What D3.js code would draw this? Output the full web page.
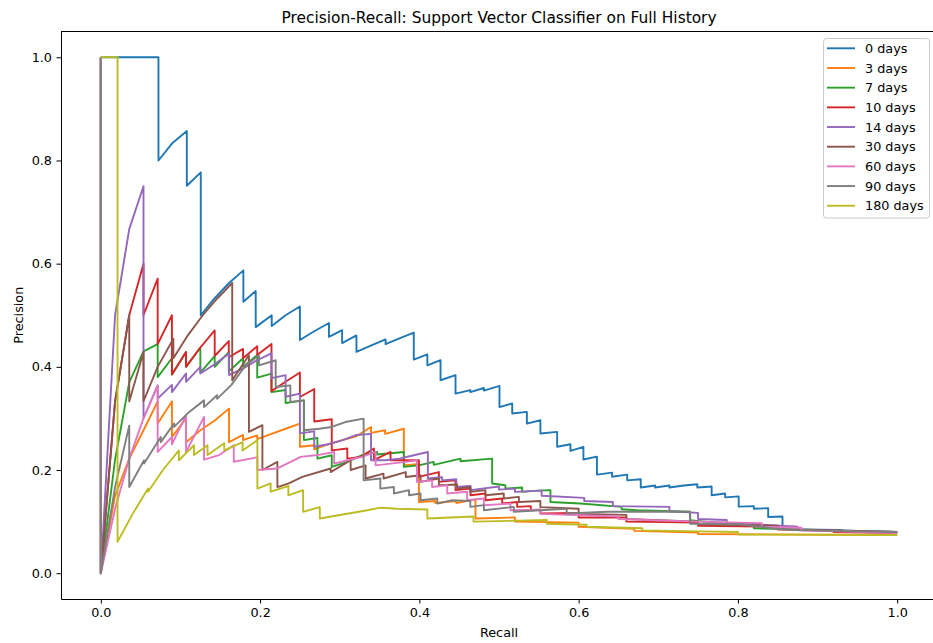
<!DOCTYPE html>
<html><head><meta charset="utf-8">
<script src="https://cdn.jsdelivr.net/npm/d3@7"></script>
<style>
body{margin:0;background:#fff}
svg{display:block}
text{font-family:"DejaVu Sans",sans-serif;fill:#000}
</style>
</head><body>
<svg id="c" width="933" height="643"></svg>
<script>
const titleText = "Precision-Recall: Support Vector Classifier on Full History";
const xLabel = "Recall";
const yLabel = "Precision";
const seriesLabels = ["0 days","3 days","7 days","10 days","14 days","30 days","60 days","90 days","180 days"];
const colors = ["#1f77b4","#ff7f0e","#2ca02c","#d62728","#9467bd","#8c564b","#e377c2","#7f7f7f","#bcbd22"];
const xTicks = [0.0,0.2,0.4,0.6,0.8,1.0];
const yTicks = [0.0,0.2,0.4,0.6,0.8,1.0];

// [recall, precision] pairs
const days0 = [[0,1],[0.0724,1],[0.0724,0.8],[0.090,0.834],[0.108,0.857],[0.108,0.751],[0.1255,0.777],[0.1255,0.5],[0.143,0.533],[0.161,0.5625],[0.179,0.587],[0.179,0.526],[0.1945,0.547],[0.1945,0.477],[0.2146,0.5],[0.2146,0.479],[0.232,0.5],[0.250,0.517],[0.250,0.452],[0.268,0.469],[0.2865,0.485],[0.2865,0.458],[0.303,0.471],[0.303,0.446],[0.321,0.461],[0.321,0.429],[0.339,0.441],[0.3576,0.453],[0.3576,0.444],[0.375,0.455],[0.393,0.4665],[0.393,0.414],[0.41,0.424],[0.41,0.403],[0.4266,0.413],[0.4266,0.374],[0.4454,0.384],[0.4454,0.348],[0.464,0.355],[0.464,0.351],[0.481,0.359],[0.481,0.354],[0.5006,0.363],[0.5006,0.322],[0.5166,0.329],[0.5166,0.3095],[0.535,0.3127],[0.535,0.29],[0.552,0.2965],[0.552,0.2707],[0.573,0.274],[0.573,0.245],[0.5897,0.25],[0.5897,0.237],[0.606,0.245],[0.606,0.2203],[0.623,0.226],[0.623,0.191],[0.642,0.195],[0.642,0.187],[0.661,0.191],[0.661,0.18],[0.678,0.182],[0.678,0.166],[0.696,0.17],[0.696,0.166],[0.714,0.17],[0.714,0.166],[0.732,0.17],[0.749,0.1725],[0.749,0.166],[0.767,0.168],[0.767,0.151],[0.784,0.1545],[0.784,0.147],[0.801,0.149],[0.801,0.129],[0.82,0.13],[0.82,0.125],[0.838,0.126],[0.838,0.109],[0.856,0.11],[0.856,0.0897],[0.871,0.09],[0.871,0.085],[0.93,0.084],[0.93,0.081],[1.0,0.08]];
const days3 = [[0,1],[0,0],[0.0179,0.15],[0.0357,0.222],[0.0536,0.277],[0.0714,0.333],[0.0714,0.29],[0.0893,0.333],[0.0893,0.264],[0.107,0.3],[0.107,0.254],[0.125,0.277],[0.143,0.296],[0.161,0.319],[0.161,0.254],[0.1786,0.268],[0.1786,0.258],[0.1964,0.267],[0.1964,0.26],[0.2143,0.27],[0.232,0.28],[0.25,0.29],[0.25,0.245],[0.268,0.248],[0.268,0.24],[0.2857,0.25],[0.3036,0.258],[0.3214,0.266],[0.3393,0.2835],[0.3393,0.272],[0.357,0.277],[0.357,0.27],[0.3805,0.28],[0.3805,0.209],[0.3994,0.212],[0.3994,0.138],[0.42,0.14],[0.42,0.136],[0.4464,0.14],[0.4464,0.136],[0.4705,0.143],[0.4705,0.106],[0.52,0.108],[0.52,0.1],[0.6,0.098],[0.6,0.09],[0.67,0.086],[0.67,0.082],[0.75,0.079],[0.75,0.076],[1.0,0.074]];
const days7 = [[0,1],[0,0],[0.0179,0.22],[0.0357,0.37],[0.0536,0.43],[0.0714,0.444],[0.0714,0.38],[0.0893,0.4167],[0.0893,0.385],[0.107,0.4286],[0.107,0.4],[0.125,0.4375],[0.125,0.3889],[0.143,0.421],[0.143,0.4],[0.1607,0.4286],[0.1607,0.3913],[0.1786,0.4167],[0.1786,0.4],[0.1964,0.4231],[0.1964,0.379],[0.2143,0.387],[0.2143,0.364],[0.2143,0.351],[0.232,0.355],[0.232,0.33],[0.255,0.335],[0.255,0.258],[0.272,0.262],[0.272,0.222],[0.29,0.2287],[0.29,0.206],[0.3095,0.2157],[0.328,0.2287],[0.347,0.235],[0.347,0.23],[0.3805,0.235],[0.3805,0.206],[0.3994,0.209],[0.418,0.2157],[0.418,0.21],[0.4517,0.222],[0.4517,0.217],[0.4914,0.222],[0.4914,0.174],[0.508,0.1705],[0.508,0.164],[0.529,0.166],[0.529,0.1576],[0.548,0.16],[0.5646,0.161],[0.5646,0.138],[0.602,0.135],[0.654,0.1285],[0.654,0.124],[0.673,0.122],[0.74,0.119],[0.74,0.1027],[0.761,0.0995],[0.82,0.095],[0.82,0.087],[1.0,0.08]];
const days10 = [[0,1],[0,0],[0.0179,0.333],[0.0357,0.5],[0.0536,0.6],[0.0536,0.5],[0.0714,0.571],[0.0714,0.444],[0.0893,0.5],[0.0893,0.385],[0.107,0.4286],[0.107,0.4],[0.125,0.4375],[0.143,0.4706],[0.143,0.421],[0.1607,0.45],[0.1607,0.4186],[0.1786,0.4348],[0.1786,0.4167],[0.1964,0.44],[0.1964,0.4231],[0.2143,0.4444],[0.2143,0.3529],[0.232,0.371],[0.25,0.389],[0.25,0.3415],[0.268,0.357],[0.268,0.294],[0.29,0.2985],[0.29,0.238],[0.3095,0.2416],[0.3095,0.222],[0.3262,0.2254],[0.343,0.2416],[0.343,0.219],[0.3638,0.235],[0.3638,0.219],[0.3994,0.219],[0.3994,0.1866],[0.4245,0.196],[0.4245,0.177],[0.4454,0.18],[0.4454,0.161],[0.4642,0.164],[0.4642,0.151],[0.483,0.1545],[0.483,0.1415],[0.504,0.1447],[0.504,0.135],[0.5228,0.138],[0.5228,0.1285],[0.54,0.13],[0.54,0.122],[0.552,0.123],[0.552,0.116],[0.6,0.117],[0.6,0.108],[0.66,0.108],[0.66,0.1],[0.75,0.098],[0.75,0.092],[0.85,0.09],[0.85,0.085],[0.92,0.083],[0.92,0.08],[1.0,0.078]];
const days14 = [[0,1],[0,0],[0.0179,0.5],[0.0357,0.667],[0.0536,0.75],[0.0536,0.3],[0.0714,0.364],[0.0714,0.3385],[0.0893,0.365],[0.0893,0.351],[0.107,0.387],[0.107,0.371],[0.125,0.4],[0.125,0.387],[0.143,0.405],[0.161,0.426],[0.161,0.384],[0.1786,0.397],[0.1964,0.413],[0.2143,0.426],[0.2143,0.378],[0.232,0.384],[0.232,0.342],[0.25,0.348],[0.25,0.271],[0.268,0.275],[0.268,0.245],[0.2857,0.25],[0.3036,0.258],[0.3214,0.268],[0.3393,0.27],[0.3393,0.219],[0.357,0.219],[0.375,0.222],[0.393,0.2287],[0.4107,0.235],[0.4107,0.1835],[0.4286,0.186],[0.4286,0.18],[0.4464,0.182],[0.4464,0.167],[0.4643,0.169],[0.4643,0.161],[0.5,0.168],[0.5,0.162],[0.52,0.164],[0.52,0.1576],[0.5536,0.16],[0.5536,0.15],[0.607,0.146],[0.607,0.14],[0.643,0.138],[0.643,0.13],[0.714,0.1285],[0.714,0.12],[0.75,0.117],[0.75,0.105],[0.786,0.103],[0.786,0.098],[0.875,0.09],[0.875,0.085],[1.0,0.08]];
const days30 = [[0,1],[0,0],[0.0179,0.333],[0.0357,0.5],[0.0357,0.333],[0.0536,0.4286],[0.0536,0.3333],[0.0714,0.4],[0.0911,0.4545],[0.0911,0.4167],[0.1095,0.4615],[0.128,0.5],[0.1465,0.533],[0.165,0.5625],[0.165,0.374],[0.186,0.4225],[0.186,0.274],[0.2029,0.287],[0.2029,0.2],[0.2217,0.2157],[0.2217,0.167],[0.236,0.174],[0.253,0.1866],[0.2886,0.203],[0.2886,0.196],[0.3137,0.219],[0.3137,0.2],[0.3325,0.209],[0.3325,0.1835],[0.355,0.193],[0.355,0.1835],[0.383,0.196],[0.383,0.1866],[0.4015,0.19],[0.4015,0.177],[0.4245,0.1835],[0.4245,0.1705],[0.4475,0.172],[0.4475,0.164],[0.464,0.167],[0.464,0.1576],[0.483,0.161],[0.483,0.151],[0.506,0.1545],[0.506,0.1447],[0.525,0.148],[0.525,0.138],[0.552,0.14],[0.552,0.128],[0.6,0.125],[0.6,0.115],[0.66,0.113],[0.66,0.105],[0.75,0.1],[0.75,0.095],[0.85,0.092],[0.85,0.085],[1.0,0.08]];
const days60 = [[0,1],[0,0],[0.0179,0.125],[0.0357,0.222],[0.0536,0.3],[0.0714,0.364],[0.0714,0.235],[0.0893,0.264],[0.0893,0.25],[0.107,0.306],[0.107,0.235],[0.1296,0.303],[0.1296,0.22],[0.1485,0.229],[0.167,0.248],[0.167,0.216],[0.188,0.222],[0.1966,0.225],[0.1966,0.2],[0.2217,0.203],[0.251,0.2254],[0.272,0.229],[0.293,0.235],[0.293,0.2125],[0.3095,0.219],[0.328,0.2254],[0.345,0.235],[0.345,0.209],[0.364,0.2125],[0.383,0.2157],[0.397,0.219],[0.397,0.177],[0.416,0.18],[0.416,0.167],[0.435,0.1705],[0.435,0.1545],[0.46,0.158],[0.46,0.1415],[0.481,0.1447],[0.481,0.1318],[0.5144,0.135],[0.5144,0.122],[0.552,0.123],[0.552,0.115],[0.65,0.11],[0.65,0.105],[0.75,0.1],[0.83,0.097],[0.83,0.09],[0.88,0.088],[0.88,0.083],[1.0,0.078]];
const days90 = [[0,1],[0,0],[0.0179,0.167],[0.0357,0.286],[0.0357,0.167],[0.0543,0.219],[0.0543,0.2125],[0.0753,0.264],[0.0753,0.254],[0.092,0.29],[0.092,0.2835],[0.111,0.3127],[0.1296,0.335],[0.1296,0.322],[0.146,0.345],[0.146,0.338],[0.164,0.365],[0.182,0.403],[0.1986,0.4225],[0.1986,0.403],[0.2196,0.4128],[0.2196,0.361],[0.238,0.364],[0.238,0.332],[0.255,0.335],[0.255,0.277],[0.274,0.28],[0.29,0.2835],[0.307,0.293],[0.33,0.2997],[0.33,0.18],[0.351,0.1835],[0.351,0.164],[0.368,0.167],[0.368,0.1545],[0.387,0.161],[0.387,0.151],[0.4015,0.1545],[0.4015,0.1415],[0.4225,0.1447],[0.4225,0.135],[0.441,0.1415],[0.464,0.14],[0.464,0.1285],[0.481,0.132],[0.481,0.122],[0.5186,0.1285],[0.5186,0.119],[0.552,0.122],[0.585,0.125],[0.585,0.1157],[0.636,0.119],[0.74,0.119],[0.74,0.096],[0.803,0.095],[0.845,0.0866],[0.878,0.083],[1.0,0.08]];
const days180 = [[0,1],[0.021,1],[0.021,0.061],[0.04,0.115],[0.0593,0.164],[0.0593,0.158],[0.078,0.2],[0.098,0.238],[0.098,0.219],[0.117,0.248],[0.117,0.229],[0.134,0.248],[0.134,0.229],[0.155,0.252],[0.155,0.238],[0.178,0.254],[0.178,0.238],[0.1966,0.258],[0.1966,0.164],[0.2133,0.174],[0.2133,0.158],[0.2355,0.169],[0.2355,0.151],[0.254,0.161],[0.254,0.119],[0.275,0.128],[0.275,0.106],[0.3346,0.122],[0.351,0.127],[0.372,0.125],[0.41,0.1234],[0.41,0.106],[0.468,0.11],[0.468,0.1],[0.56,0.103],[0.56,0.096],[0.61,0.094],[0.61,0.09],[0.68,0.087],[0.68,0.083],[0.75,0.081],[0.8,0.08],[0.8,0.075],[1.0,0.074]];

const allSeries = [days0,days3,days7,days10,days14,days30,days60,days90,days180];

const svg = d3.select("#c");
const L = 61, R = 937, T = 31.5, B = 599;
const x = d3.scaleLinear().domain([-0.05,1.05]).range([L,R]);
const y = d3.scaleLinear().domain([-0.05,1.05]).range([B,T]);
const FS = 12.8;

svg.append("defs").append("clipPath").attr("id","clip")
  .append("rect").attr("x",L).attr("y",T).attr("width",R-L).attr("height",B-T);

const line = d3.line().x(d=>x(d[0])).y(d=>y(d[1]));
const plot = svg.append("g").attr("clip-path","url(#clip)");
allSeries.forEach((s,i)=>{
  plot.append("path").attr("d",line(s)).attr("fill","none")
    .attr("stroke",colors[i]).attr("stroke-width",1.9)
    .attr("stroke-linejoin","round");
});

// axes
const xAxis = d3.axisBottom(x).tickValues(xTicks).tickFormat(d3.format(".1f")).tickSize(4.5).tickPadding(4.5).tickSizeOuter(0);
const yAxis = d3.axisLeft(y).tickValues(yTicks).tickFormat(d3.format(".1f")).tickSize(4.5).tickPadding(4.5).tickSizeOuter(0);
const gx = svg.append("g").attr("transform",`translate(0,${B})`).call(xAxis);
const gy = svg.append("g").attr("transform",`translate(${L},0)`).call(yAxis);
[gx,gy].forEach(g=>{
  g.attr("font-size",null).attr("font-family",null);
  g.selectAll("text").attr("font-size",FS).attr("fill","#000");
  g.selectAll("line").attr("stroke","#000").attr("stroke-width",1);
  g.select(".domain").attr("stroke","#000").attr("stroke-width",1);
});
// top & right spines
svg.append("line").attr("x1",L).attr("x2",R).attr("y1",T).attr("y2",T).attr("stroke","#000").attr("stroke-width",1);
svg.append("line").attr("x1",R).attr("x2",R).attr("y1",T).attr("y2",B).attr("stroke","#000").attr("stroke-width",1);

// labels
svg.append("text").attr("x",(L+R)/2).attr("y",23).attr("text-anchor","middle").attr("font-size",15.4).text(titleText);
svg.append("text").attr("x",(L+R)/2).attr("y",636.5).attr("text-anchor","middle").attr("font-size",FS).text(xLabel);
svg.append("text").attr("transform",`translate(22.5,${(T+B)/2}) rotate(-90)`).attr("text-anchor","middle").attr("font-size",FS).text(yLabel);

// legend
const lg = svg.append("g");
lg.append("rect").attr("x",823.5).attr("y",38.5).attr("width",106).attr("height",179.5).attr("rx",3)
  .attr("fill","#fff").attr("fill-opacity",0.8).attr("stroke","#cccccc").attr("stroke-width",1);
seriesLabels.forEach((lab,i)=>{
  const yy = 48.3 + i*19.68;
  lg.append("line").attr("x1",827).attr("x2",855).attr("y1",yy).attr("y2",yy).attr("stroke",colors[i]).attr("stroke-width",1.9);
  lg.append("text").attr("x",865).attr("y",yy).attr("dy","0.36em").attr("font-size",FS).text(lab);
});
</script>
</body></html>
